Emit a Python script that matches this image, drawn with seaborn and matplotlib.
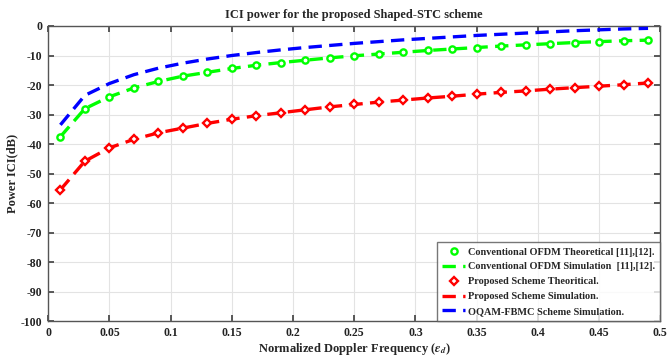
import numpy as np
import pandas as pd
import matplotlib
matplotlib.use("Agg")
import matplotlib.pyplot as plt
import seaborn as sns

doppler = [0.01, 0.03, 0.05, 0.07, 0.09, 0.11, 0.13, 0.15, 0.17, 0.19, 0.21, 0.23, 0.25,
           0.27, 0.29, 0.31, 0.33, 0.35, 0.37, 0.39, 0.41, 0.43, 0.45, 0.47, 0.49]
ofdm_ici = [-37.5, -28.0, -24.0, -21.0, -18.8, -17.0, -15.7, -14.4, -13.3, -12.4, -11.6, -10.8, -10.1,
            -9.5, -8.9, -8.3, -7.8, -7.3, -6.8, -6.4, -6.0, -5.6, -5.3, -5.0, -4.8]
proposed_ici = [-55.5, -45.8, -41.3, -38.4, -36.2, -34.6, -33.0, -31.6, -30.4, -29.4, -28.4, -27.4, -26.6,
                -25.8, -25.1, -24.4, -23.8, -23.1, -22.5, -22.0, -21.4, -20.9, -20.4, -19.9, -19.3]
fbmc_ici = [-33.5, -23.5, -19.5, -16.5, -14.3, -12.6, -11.2, -10.0, -9.0, -8.1, -7.3, -6.6, -5.9,
            -5.3, -4.7, -4.2, -3.7, -3.2, -2.8, -2.4, -2.0, -1.6, -1.3, -1.0, -0.8]

labels = ["Conventional OFDM Theoretical [11],[12].",
          "Conventional OFDM Simulation  [11],[12].",
          "Proposed Scheme Theoritical.",
          "Proposed Scheme Simulation.",
          "OQAM-FBMC Scheme Simulation."]
xticks = [0, 0.05, 0.1, 0.15, 0.2, 0.25, 0.3, 0.35, 0.4, 0.45, 0.5]
xticklabels = ["0", "0.05", "0.1", "0.15", "0.2", "0.25", "0.3", "0.35", "0.4", "0.45", "0.5"]
yticks = list(range(-100, 1, 10))

df = pd.DataFrame({"x": doppler, "ofdm": ofdm_ici, "prop": proposed_ici, "fbmc": fbmc_ici})

sns.set_theme(style="whitegrid")
plt.rcParams["font.family"] = ["Liberation Serif", "DejaVu Serif"]
plt.rcParams["font.weight"] = "bold"
plt.rcParams["axes.unicode_minus"] = False
plt.rcParams["mathtext.fontset"] = "stix"

fig = plt.figure(figsize=(6.69, 3.56), dpi=100)
ax = fig.add_axes([0.072, 0.098, 0.915, 0.829])

green = "#00ff00"
red = "#ff0000"
blue = "#0000ff"
dash = (4, 2.2)

sns.lineplot(data=df, x="x", y="ofdm", ax=ax, color=green, linestyle="none", marker="o",
             markersize=4.5, markerfacecolor="white", markeredgecolor=green, markeredgewidth=1.7,
             label=labels[0], zorder=4)
sns.lineplot(data=df, x="x", y="ofdm", ax=ax, color=green, linewidth=2.4, dashes=dash,
             label=labels[1], zorder=3)
sns.lineplot(data=df, x="x", y="prop", ax=ax, color=red, linestyle="none", marker="D",
             markersize=4.2, markerfacecolor="white", markeredgecolor=red, markeredgewidth=1.7,
             label=labels[2], zorder=4)
sns.lineplot(data=df, x="x", y="prop", ax=ax, color=red, linewidth=2.4, dashes=dash,
             label=labels[3], zorder=3)
sns.lineplot(data=df, x="x", y="fbmc", ax=ax, color=blue, linewidth=2.4, dashes=dash,
             label=labels[4], zorder=3)

for ln in ax.get_lines():
    if ln.get_linestyle() not in ("None", "none", ""):
        ln.set_dashes(dash)

ax.set_xlim(0, 0.5)
ax.set_ylim(-100, 0)
ax.set_xticks(xticks)
ax.set_xticklabels(xticklabels)
ax.set_yticks(yticks)
ax.set_yticklabels([str(v) for v in yticks])
ax.tick_params(axis="both", which="both", direction="in", length=4, labelsize=8.5,
               top=True, right=True, bottom=True, left=True, color="#444444", pad=4)
for lab in ax.get_xticklabels() + ax.get_yticklabels():
    lab.set_fontweight("bold")
    lab.set_color("#222222")
ax.grid(True, color="#e3e3e3", linewidth=0.8)
for sp in ax.spines.values():
    sp.set_visible(True)
    sp.set_color("#555555")
    sp.set_linewidth(1.0)

ax.set_title("ICI power for the proposed Shaped-STC scheme", fontsize=8.9, fontweight="bold", pad=6)
ax.set_xlabel(r"Normalized Doppler Frequency ($\epsilon_d$)", fontsize=9, fontweight="bold", labelpad=2)
ax.set_ylabel("Power ICI(dB)", fontsize=9, fontweight="bold", labelpad=2)

leg = ax.legend(loc="lower right", borderaxespad=0, fontsize=7.4, frameon=True, fancybox=False,
                handlelength=2.2, handletextpad=0.3, labelspacing=0.55, borderpad=0.5)
leg.get_frame().set_edgecolor("#555555")
leg.get_frame().set_linewidth(1.0)
for t in leg.get_texts():
    t.set_fontweight("bold")

fig.savefig("out.png", dpi=100)
